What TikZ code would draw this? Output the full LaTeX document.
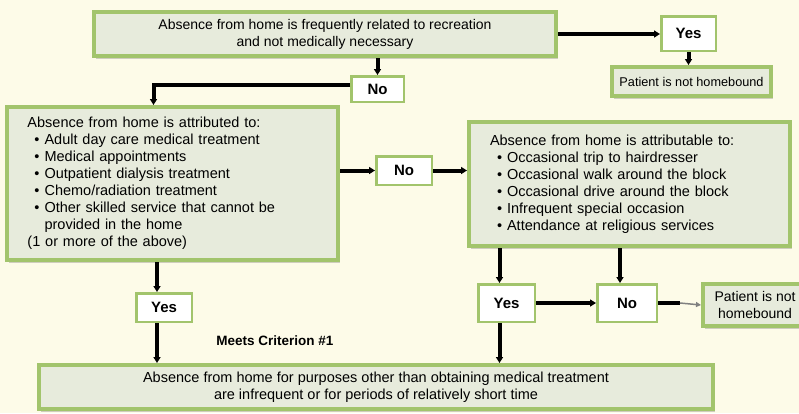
\documentclass[tikz,border=0pt]{standalone}
\usepackage{fontspec}
\setmainfont{Liberation Sans}
\usetikzlibrary{arrows.meta,shadows,calc}
\definecolor{bgc}{HTML}{FDFBE8}
\definecolor{boxfill}{HTML}{E7EBDC}
\definecolor{boxline}{HTML}{A2C46C}
\newcommand\bul{\hspace*{7bp}\textbullet\hspace{5bp}}
\newcommand\nobul{\hspace*{7bp}\phantom{\textbullet}\hspace{5bp}}
\tikzset{
 bigbox/.style={draw=boxline, line width=4bp, fill=boxfill,
   drop shadow={shadow xshift=2bp, shadow yshift=-3bp, opacity=0.18, fill=black},
   inner sep=0pt, font=\fontsize{14bp}{17bp}\selectfont},
 listfont/.style={font=\fontsize{14.5bp}{17bp}\selectfont},
 ansbox/.style={draw=boxline, line width=2.5bp, fill=white,
   font=\fontsize{15bp}{18bp}\selectfont\bfseries, inner sep=0pt},
 conn/.style={line width=4bp, -{Triangle[length=6bp,width=7bp]}},
}
\begin{document}
\begin{tikzpicture}[x=1bp,y=-1bp]
\path[use as bounding box, fill=bgc] (0,0) rectangle (799,413);

\node[bigbox, minimum width=462bp, minimum height=44bp, align=center] (top) at (325,34)
  {Absence from home is frequently related to recreation\\and not medically necessary};
\node[ansbox, minimum width=54.5bp, minimum height=34.5bp] (yes1) at (688.5,33.5) {Yes};
\node[bigbox, minimum width=159bp, minimum height=29bp, font=\fontsize{12.7bp}{15bp}\selectfont] (pnh1) at (691.5,81.5) {Patient is not homebound};
\node[ansbox, minimum width=52.5bp, minimum height=25.5bp] (no1) at (377.5,89) {No};

\node[bigbox, listfont, minimum width=331bp, minimum height=153bp, text width=290bp, align=left] (left) at (172.5,183.5)
  {Absence from home is attributed to:\\
   \bul Adult day care medical treatment\\
   \bul Medical appointments\\
   \bul Outpatient dialysis treatment\\
   \bul Chemo/radiation treatment\\
   \bul Other skilled service that cannot be\\
   \nobul provided in the home\\
   (1 or more of the above)};
\node[ansbox, minimum width=55.5bp, minimum height=28.5bp] (no2) at (404,170.5) {No};
\node[bigbox, listfont, minimum width=321bp, minimum height=124bp, text width=279bp, align=left] (right) at (629.5,184)
  {Absence from home is attributable to:\\
   \bul Occasional trip to hairdresser\\
   \bul Occasional walk around the block\\
   \bul Occasional drive around the block\\
   \bul Infrequent special occasion\\
   \bul Attendance at religious services};

\node[ansbox, minimum width=55.5bp, minimum height=28.5bp] (yes2) at (164,307.5) {Yes};
\node[font=\fontsize{13.5bp}{16bp}\selectfont\bfseries] (meets) at (275,341) {Meets Criterion \#1};
\node[ansbox, minimum width=56.5bp, minimum height=37.5bp] (yes3) at (506.5,303) {Yes};
\node[ansbox, minimum width=59.5bp, minimum height=37.5bp] (no3) at (627,303) {No};
\node[bigbox, minimum width=104bp, minimum height=42bp, align=center] (pnh2) at (755,305)
  {Patient is not\\homebound};

\node[bigbox, listfont, minimum width=674bp, minimum height=44bp, align=center] (bottom) at (376,387)
  {Absence from home for purposes other than obtaining medical treatment\\
   are infrequent or for periods of relatively short time};

% connectors
\draw[conn] (top.east) -- (top.east -| yes1.west);
\draw[conn] (yes1.south) -- (yes1.south |- pnh1.north);
\draw[conn] (no1.north |- top.south) -- (no1.north);
\coordinate (lt) at ([xshift=-19bp]left.north);
\coordinate (nw) at ([yshift=4bp]no1.west);
\draw[conn] (nw) -| (lt);
\draw[conn] (left.east |- no2.west) -- (no2.west);
\draw[conn] (no2.east) -- (no2.east -| right.west);
\coordinate (ls) at ([xshift=-7bp]yes2.north);
\coordinate (ls2) at ([xshift=-7bp]yes2.south);
\draw[conn] (ls |- left.south) -- (ls);
\draw[conn] (ls2) -- (ls2 |- bottom.north);
\coordinate (ys) at ([xshift=-7bp]yes3.north);
\coordinate (ys2) at ([xshift=-7bp]yes3.south);
\draw[conn] (ys |- right.south) -- (ys);
\draw[conn] (ys2) -- (ys2 |- bottom.north);
\coordinate (ns) at ([xshift=-7bp]no3.north);
\draw[conn] (ns |- right.south) -- (ns);
\draw[conn] (yes3.east) -- (no3.west);
\coordinate (mid) at ([xshift=22bp]no3.east);
\draw[line width=4bp] (no3.east) -- (mid);
\draw[gray, line width=1.5bp, -{Triangle[length=5bp,width=5bp]}] (mid) -- (pnh2.west);
\end{tikzpicture}
\end{document}
